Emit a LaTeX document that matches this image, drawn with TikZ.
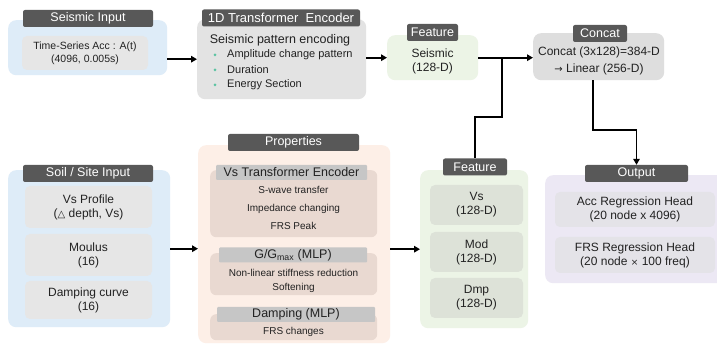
\documentclass[tikz,border=0pt]{standalone}
\usepackage{fontspec}
\setmainfont{Liberation Sans}
\newfontfamily\symfont{DejaVu Sans}
\usetikzlibrary{arrows.meta}

\definecolor{hdrgray}{HTML}{585858}
\definecolor{blueL}{HTML}{DEECF8}
\definecolor{grayIn}{HTML}{E6E6E6}
\definecolor{encGray}{HTML}{E3E3E3}
\definecolor{greenL}{HTML}{ECF4E6}
\definecolor{ccGray}{HTML}{DEDEDE}
\definecolor{peach}{HTML}{FDEFE7}
\definecolor{subPink}{HTML}{E9D9D1}
\definecolor{stripGray}{HTML}{C6C6C6}
\definecolor{greenIn}{HTML}{DDE2D8}
\definecolor{lav}{HTML}{ECE8F4}
\definecolor{outIn}{HTML}{E4E3E8}
\definecolor{teal}{HTML}{5CC3A2}
\definecolor{txt}{HTML}{222222}

\tikzset{
  panel/.style={rounded corners=8pt, inner sep=0pt, anchor=north west},
  hdr/.style={fill=hdrgray, text=white, rounded corners=2pt, inner sep=0pt,
    minimum height=17pt, font=\fontsize{12.5}{14}\selectfont},
  inbox/.style={rounded corners=5pt, inner sep=0pt, align=center, text=txt,
    font=\fontsize{12}{14}\selectfont},
  strip/.style={fill=stripGray, rounded corners=1pt, inner sep=0pt,
    minimum height=15pt, text=txt, font=\fontsize{12.5}{14}\selectfont},
  body/.style={align=center, text=txt, inner sep=0pt},
  bul/.style={circle, fill=teal, inner sep=0pt, minimum size=3pt},
  conn/.style={line width=1.8pt},
  arr/.style={conn, -{Triangle[length=6pt,width=6.5pt]}},
}

\begin{document}
\begin{tikzpicture}[x=1pt, y=-1pt]
\clip (0,0) rectangle (717,344);
\fill[white] (0,0) rectangle (717,344);

% ---------- seismic input ----------
\node[panel, fill=blueL, minimum width=159pt, minimum height=55pt] (sin) at (8,20) {};
\node[hdr, minimum width=130pt] (sinh) at (88,18.5) {Seismic Input};
\node[inbox, fill=grayIn, minimum width=126pt, minimum height=34pt,
  font=\fontsize{10.5}{13}\selectfont] (sinb) at (85,53)
  {Time-Series Acc : A(t)\\(4096, 0.005s)};

% ---------- 1D transformer encoder ----------
\node[panel, fill=encGray, minimum width=169pt, minimum height=80pt] (enc) at (197,19) {};
\node[hdr, minimum width=158pt, font=\fontsize{13}{14}\selectfont] (ench) at (281,18) {1D Transformer\ \ Encoder};
\node[body, font=\fontsize{12.5}{14}\selectfont] (enct) at (280,40) {Seismic pattern encoding};
\node[bul] (b1) at (215,55) {};
\node[bul] (b2) at (215,70) {};
\node[bul] (b3) at (215,85) {};
\node[body, anchor=west, font=\fontsize{11}{12}\selectfont] (e1) at (227,55) {Amplitude change pattern};
\node[body, anchor=west, font=\fontsize{11}{12}\selectfont] (e2) at (227,70) {Duration};
\node[body, anchor=west, font=\fontsize{11}{12}\selectfont] (e3) at (227,85) {Energy Section};

% ---------- seismic feature ----------
\node[panel, fill=greenL, minimum width=91pt, minimum height=45pt] (fs) at (387,35) {};
\node[hdr, minimum width=51pt] (fsh) at (432.5,32.5) {Feature};
\node[body, font=\fontsize{12}{14}\selectfont] (fst) at (432.5,61) {Seismic\\(128-D)};

% ---------- concat ----------
\node[panel, fill=ccGray, minimum width=131pt, minimum height=47pt] (cc) at (533,33) {};
\node[hdr, minimum width=54pt] (cch) at (600,33.5) {Concat};
\node[body, font=\fontsize{12}{17.5}\selectfont] (cct) at (599,61)
  {Concat (3x128)=384-D\\{\symfont\fontsize{10}{10}\selectfont→} Linear (256-D)};

% ---------- soil / site input ----------
\node[panel, fill=blueL, minimum width=162pt, minimum height=157pt] (soil) at (8,170) {};
\node[hdr, minimum width=130pt] (soilh) at (88,173.5) {Soil / Site Input};
\node[inbox, fill=grayIn, minimum width=127pt, minimum height=42pt] (s1) at (88.5,207)
  {Vs Profile\\({\symfont\fontsize{10}{10}\selectfont △} depth, Vs)};
\node[inbox, fill=grayIn, minimum width=127pt, minimum height=42pt] (s2) at (88.5,255)
  {Moulus\\(16)};
\node[inbox, fill=grayIn, minimum width=127pt, minimum height=38pt] (s3) at (88.5,300)
  {Damping curve\\(16)};

% ---------- properties ----------
\node[panel, fill=peach, minimum width=192pt, minimum height=198pt] (props) at (198,145) {};
\node[hdr, minimum width=131pt] (propsh) at (293.5,142.5) {Properties};

\node[panel, fill=subPink, rounded corners=6pt, minimum width=167pt, minimum height=67pt] (p1) at (210,170) {};
\node[strip, minimum width=151pt] (p1h) at (291.5,172.5) {Vs Transformer Encoder};
\node[body, font=\fontsize{10}{18}\selectfont] (p1t) at (293.5,208)
  {S-wave transfer\\Impedance changing\\FRS Peak};

\node[panel, fill=subPink, rounded corners=6pt, minimum width=167pt, minimum height=42pt] (p2) at (210,253) {};
\node[strip, minimum width=148pt] (p2h) at (293,255) {G/G\textsubscript{max} (MLP)};
\node[body, font=\fontsize{10}{14}\selectfont] (p2t) at (293.5,281)
  {Non-linear stiffness reduction\\Softening};

\node[panel, fill=subPink, rounded corners=6pt, minimum width=167pt, minimum height=26pt] (p3) at (210,314) {};
\node[strip, minimum width=158pt] (p3h) at (296,314.5) {Damping (MLP)};
\node[body, font=\fontsize{10}{12}\selectfont] (p3t) at (293.5,332) {FRS changes};

% ---------- soil features ----------
\node[panel, fill=greenL, minimum width=108pt, minimum height=158pt] (fb) at (420,170) {};
\node[hdr, minimum width=64pt] (fbh) at (475,167) {Feature};
\node[inbox, fill=greenIn, minimum width=93pt, minimum height=40pt] (f1) at (476.5,205)
  {Vs\\(128-D)};
\node[inbox, fill=greenIn, minimum width=93pt, minimum height=40pt] (f2) at (476.5,252)
  {Mod\\(128-D)};
\node[inbox, fill=greenIn, minimum width=93pt, minimum height=40pt] (f3) at (476.5,298)
  {Dmp\\(128-D)};

% ---------- output ----------
\node[panel, fill=lav, minimum width=185pt, minimum height=108pt] (out) at (545,175) {};
\node[hdr, minimum width=103pt] (outh) at (636.5,173.5) {Output};
\node[inbox, fill=outIn, minimum width=160pt, minimum height=35pt] (o1) at (635,209.5)
  {Acc Regression Head\\(20 node x 4096)};
\node[inbox, fill=outIn, minimum width=160pt, minimum height=36pt] (o2) at (635,255)
  {FRS Regression Head\\(20 node {\symfont\fontsize{9}{10}\selectfont ×} 100 freq)};

% ---------- connectors ----------
\draw[arr] (sin.east |- enc.west) -- (enc.west);
\draw[arr] (enc.east |- fs.west) -- (fs.west);
\draw[arr] (fs.east) -- (cc.west |- fs.east);
\coordinate (j1) at (502,57.5);
\coordinate (k1) at (502,117);
\draw[conn] (j1) -- (k1) -| (fbh.north);
\coordinate (k2) at (593,130);
\draw[arr] (cc.south -| k2) -- (k2) -| (outh.north);
\draw[arr] (soil.east) -- (props.west |- soil.east);
\draw[arr] (props.east |- fb.west) -- (fb.west);
\end{tikzpicture}
\end{document}
